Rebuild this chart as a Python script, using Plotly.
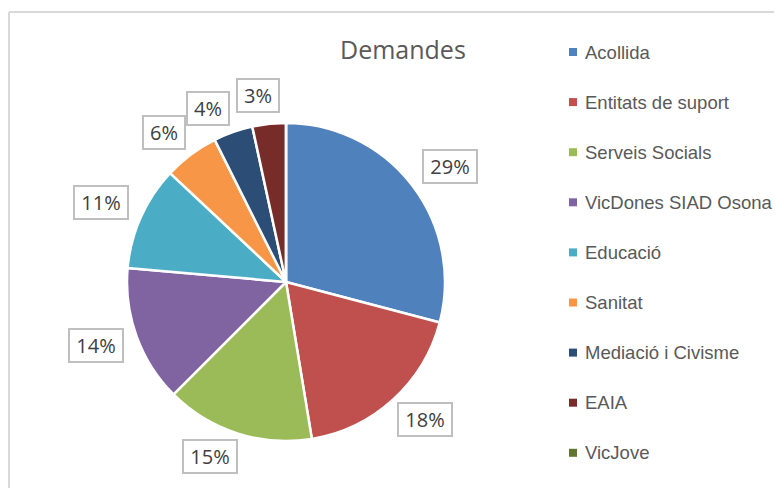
import math
import plotly.graph_objects as go

# ---- data ----
categories = ["Acollida", "Entitats de suport", "Serveis Socials", "VicDones SIAD Osona",
              "Educació", "Sanitat", "Mediació i Civisme", "EAIA", "VicJove"]
values = [29.1, 18.3, 15.1, 13.9, 10.6, 5.6, 4.0, 3.4, 0.0]
colors = ["#4F81BD", "#C0504D", "#9BBB59", "#8064A2", "#4BACC6",
          "#F79646", "#2C4D75", "#772C2A", "#5F7530"]
title_text = "Demandes"

# ---- style ----
label_nudge_deg = [2.6, -2.9, 5.7, 1.5, -1.0, -2.5, -4.7, -2.3, 0.0]  # label placement tweaks

OFF = 8                      # page body margin in the browser
W, H = 782 - OFF, 488 - OFF  # figure size
cx, cy, R = 286, 282, 159    # pie centre / radius in screen pixels
gap = 13                     # gap between pie edge and label box
box_h = 33


def px(x):
    return (x - OFF) / W


def py(y):
    return 1 - (y - OFF) / H


fig = go.Figure()
fig.add_trace(go.Pie(
    labels=categories, values=values, sort=False, direction="clockwise", rotation=0,
    marker=dict(colors=colors, line=dict(color="white", width=2.5)),
    textinfo="none", hoverinfo="label+percent", showlegend=False,
    domain=dict(x=[px(cx - R), px(cx + R)], y=[py(cy + R), py(cy - R)]),
))

annotations = []
shapes = []

# data labels (boxed percentages outside the slices)
total = sum(values)
cum = 0.0
for v, nudge in zip(values, label_nudge_deg):
    if v <= 0:
        cum += v
        continue
    mid = (cum + v / 2) / total * 2 * math.pi
    cum += v
    ang = mid + math.radians(nudge)
    txt = f"{round(v / total * 100)}%"
    bw = 12 * len(txt) + 18
    s, c = math.sin(ang), math.cos(ang)
    half = min((bw / 2) / abs(s) if abs(s) > 1e-6 else 1e9,
               (box_h / 2) / abs(c) if abs(c) > 1e-6 else 1e9)
    r = R + gap + half
    lx = cx + r * s
    ly = cy - r * c
    annotations.append(dict(
        x=px(lx), y=py(ly), xref="paper", yref="paper", showarrow=False,
        text=txt, width=bw - 4, height=box_h - 4, align="center", valign="middle",
        font=dict(family="Open Sans, Liberation Sans, sans-serif", size=20, color="#404040"),
        bordercolor="#BFBFBF", borderwidth=2, borderpad=1, bgcolor="white",
        xanchor="center", yanchor="middle",
    ))

# title
annotations.append(dict(
    x=px(403), y=py(49), xref="paper", yref="paper", showarrow=False,
    text=title_text, xanchor="center", yanchor="middle",
    font=dict(family="Open Sans, sans-serif", size=25, color="#595959"),
))

# manual legend
for i, (cat, col) in enumerate(zip(categories, colors)):
    yc = 52 + 50.1 * i
    shapes.append(dict(type="rect", xref="paper", yref="paper",
                       x0=px(569), x1=px(577), y0=py(yc + 4), y1=py(yc - 4),
                       fillcolor=col, line=dict(width=0)))
    annotations.append(dict(
        x=px(583), y=py(yc), xref="paper", yref="paper", showarrow=False,
        text=cat, xanchor="left", yanchor="middle",
        font=dict(family="Liberation Sans, Arial, sans-serif", size=18.5, color="#595959"),
    ))

# chart frame (top and left edges visible)
shapes.append(dict(type="line", xref="paper", yref="paper", x0=px(9), x1=1.0, y0=py(12), y1=py(12),
                   line=dict(color="#D9D9D9", width=2)))
shapes.append(dict(type="line", xref="paper", yref="paper", x0=px(9), x1=px(9), y0=py(12), y1=0.0,
                   line=dict(color="#D9D9D9", width=2)))

fig.update_layout(
    width=W, height=H, margin=dict(l=0, r=0, t=0, b=0),
    paper_bgcolor="white", plot_bgcolor="white",
    annotations=annotations, shapes=shapes, showlegend=False,
)

fig.write_html("out.html")
